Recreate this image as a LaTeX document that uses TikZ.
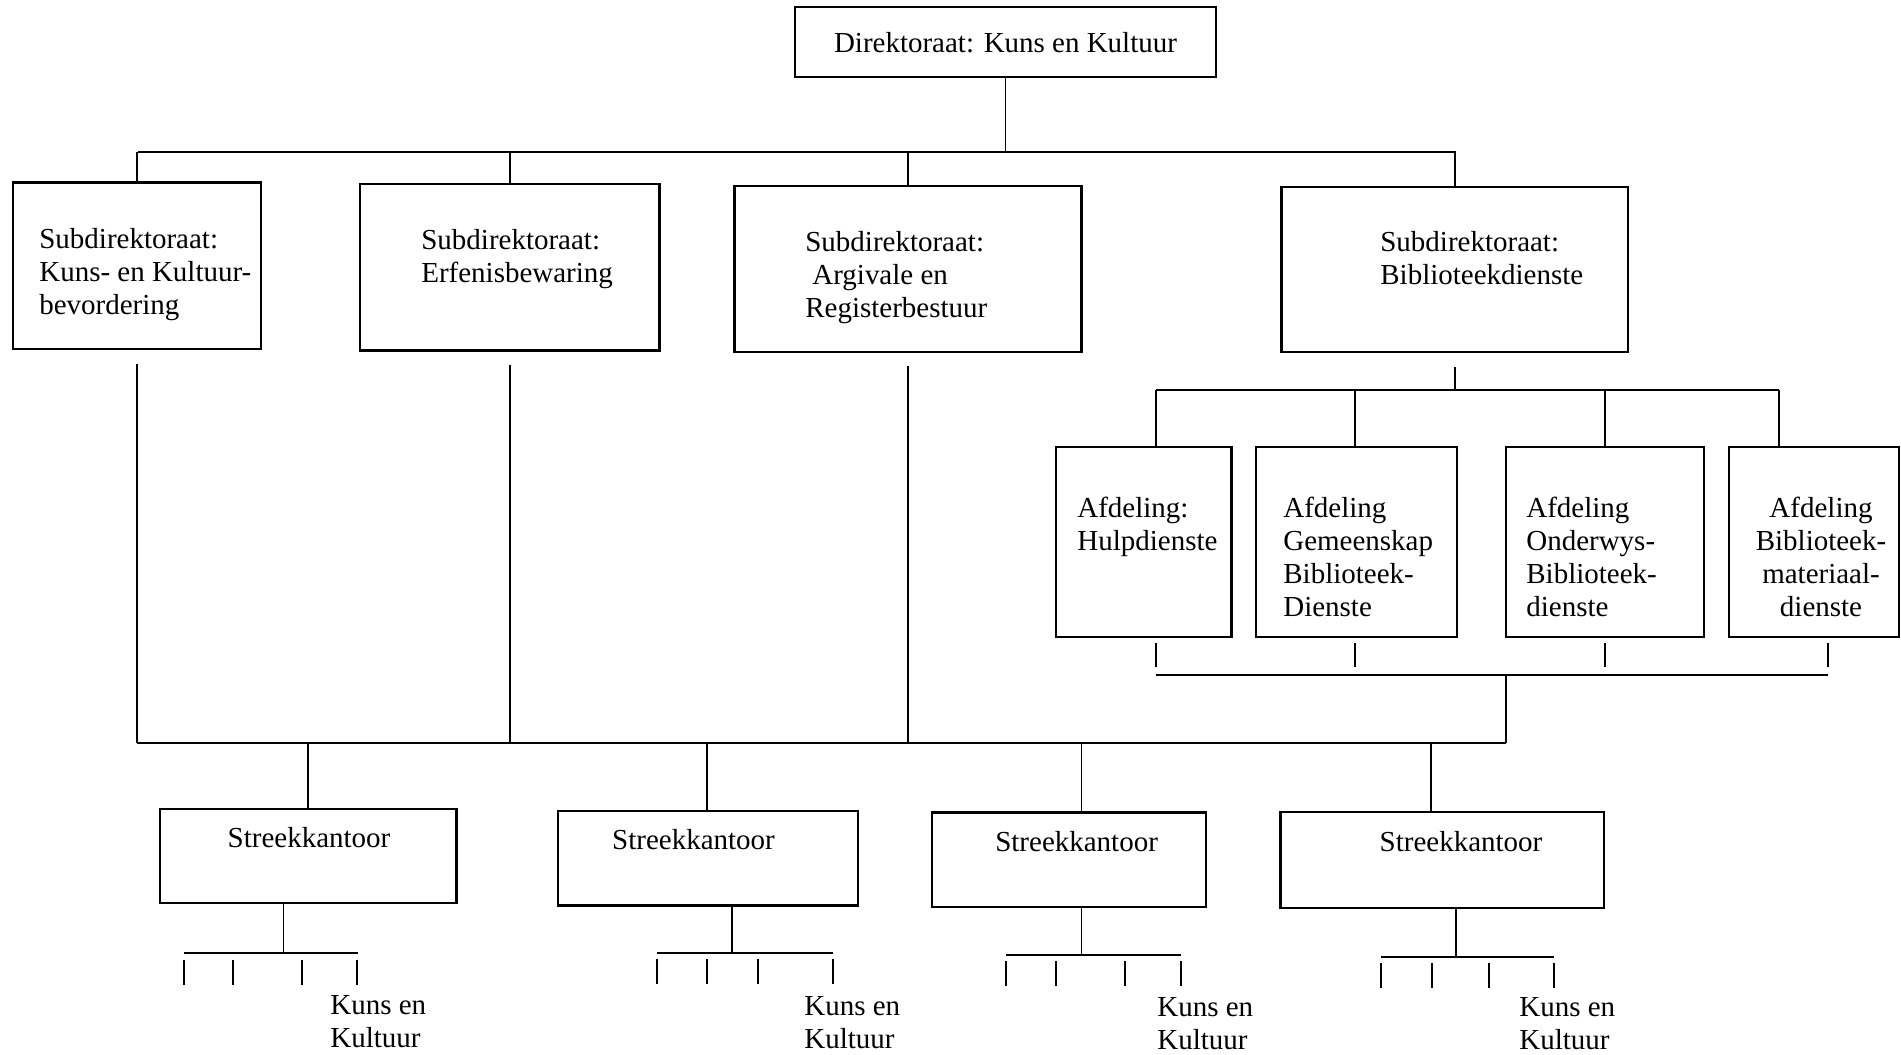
\documentclass[tikz,border=0pt]{standalone}
\usepackage{fontspec}
\setmainfont{Liberation Serif}
\begin{document}
\begin{tikzpicture}[x=0.02cm, y=-0.02cm,
    font=\fontsize{16.5}{18.7}\selectfont,
    unitbox/.style ={rectangle, draw, line width=1.3pt, inner sep=0pt},
    caption/.style ={inner sep=0pt, align=left},
    link/.style ={line width=1.1pt},
    drop/.style ={link, shorten <=0.27cm}]
   \useasboundingbox (0,0) rectangle (1901,1055);

   \node[unitbox, minimum width=8.42cm, minimum height=1.4cm] (dir) at (1005.5,42.3) {Direktoraat: Kuns en Kultuur};

   \node[unitbox, minimum width=4.95cm, minimum height=3.33cm] (sub1) at (137,265.8) {};
   \node[unitbox, minimum width=5.99cm, minimum height=3.33cm] (sub2) at (509.8,267.4) {};
   \node[unitbox, minimum width=6.94cm, minimum height=3.32cm] (sub3) at (908.1,268.7) {};
   \node[unitbox, minimum width=6.93cm, minimum height=3.31cm] (sub4) at (1454.8,269.5) {};

   \node[caption, anchor=north west] (sub1t) at (39,228) {Subdirektoraat:\\Kuns- en Kultuur-\\bevordering};
   \node[caption, anchor=north west] (sub2t) at (421,229) {Subdirektoraat:\\Erfenisbewaring};
   \node[caption, anchor=north west] (sub3t) at (805,231) {Subdirektoraat:\\\hspace*{4pt}Argivale en\\Registerbestuur};
   \node[caption, anchor=north west] (sub4t) at (1380,231) {Subdirektoraat:\\Biblioteekdienste};

   \node[unitbox, minimum width=3.51cm, minimum height=3.79cm] (afd1) at (1143.8,542) {};
   \node[unitbox, minimum width=4.02cm, minimum height=3.79cm] (afd2) at (1356.3,542) {};
   \node[unitbox, minimum width=3.97cm, minimum height=3.79cm] (afd3) at (1604.9,542) {};
   \node[unitbox, minimum width=3.41cm, minimum height=3.79cm] (afd4) at (1813.9,542) {};

   \node[caption, anchor=north west] (afd1t) at (1077,497) {Afdeling:\\Hulpdienste};
   \node[caption, anchor=north west] (afd2t) at (1283,497) {Afdeling\\Gemeenskap\\Biblioteek-\\Dienste};
   \node[caption, anchor=north west] (afd3t) at (1526,497) {Afdeling\\Onderwys-\\Biblioteek-\\dienste};
   \node[caption, align=center, anchor=north] (afd4t) at (1821,497) {Afdeling\\Biblioteek-\\materiaal-\\dienste};

   \node[unitbox, minimum width=5.93cm, minimum height=1.89cm] (reg1) at (308.4,856) {};
   \node[unitbox, minimum width=6.01cm, minimum height=1.89cm] (reg2) at (708,858.3) {};
   \node[unitbox, minimum width=5.48cm, minimum height=1.89cm] (reg3) at (1069.3,859.6) {};
   \node[unitbox, minimum width=6.47cm, minimum height=1.92cm] (reg4) at (1442.2,860.2) {};

   \node[caption, anchor=base] (reg1t) at (309,847) {Streekkantoor};
   \node[caption, anchor=base] (reg2t) at (693.5,849.5) {Streekkantoor};
   \node[caption, anchor=base] (reg3t) at (1076.6,851) {Streekkantoor};
   \node[caption, anchor=base] (reg4t) at (1461,851) {Streekkantoor};

   \node[caption, anchor=north west] (kk1) at (330,995) {Kuns en\\Kultuur};
   \node[caption, anchor=north west] (kk2) at (804,996) {Kuns en\\Kultuur};
   \node[caption, anchor=north west] (kk3) at (1157,997) {Kuns en\\Kultuur};
   \node[caption, anchor=north west] (kk4) at (1519,997) {Kuns en\\Kultuur};

   \coordinate (busAl) at (138,152);
   \coordinate (busAr) at (1456,152);
   \coordinate (busBl) at (137,743);
   \coordinate (busBr) at (1506,743);
   \coordinate (up1) at (1156,390);
   \coordinate (up2) at (1355,390);
   \coordinate (up3) at (1605,390);
   \coordinate (up4) at (1779,390);
   \coordinate (dn1) at (1156,675);
   \coordinate (dn2) at (1355,675);
   \coordinate (dn3) at (1605,675);
   \coordinate (dn4) at (1828,675);
   \coordinate (merge) at (1506,675);
   \coordinate (s1) at (308,743);
   \coordinate (s2) at (707,743);
   \coordinate (s3) at (1081.5,743);
   \coordinate (s4) at (1430.6,743);
   \coordinate (k1) at (283.5,953);
   \coordinate (k2) at (732.3,953);
   \coordinate (k3) at (1081.5,955);
   \coordinate (k4) at (1456,957);

   \draw[link] (busAl) to (busAr);
   \draw[link] (dir) to (dir |- busAl);
   \draw[link] (sub1 |- busAl) to (sub1);
   \draw[link] (sub2 |- busAl) to (sub2);
   \draw[link] (sub3 |- busAl) to (sub3);
   \draw[link] (sub4 |- busAl) to (sub4);

   \draw[link] (busBl) to (busBr);
   \draw[drop] (sub1) to (sub1 |- busBl);
   \draw[drop] (sub2) to (sub2 |- busBl);
   \draw[drop] (sub3) to (sub3 |- busBl);

   \draw[link] (up1) to (up4);
   \draw[drop] (sub4) to (sub4 |- up1);
   \foreach \i in {1,...,4} \draw[link] (up\i) to (afd\i.north -| up\i);
   \foreach \i in {1,...,4} \draw[link, shorten <=0.11cm, shorten >=0.16cm] (afd\i.south -| dn\i) to (dn\i);
   \draw[link] (dn1) to (dn4);
   \draw[link] (merge) to (merge |- busBl);

   \foreach \i in {1,...,4} \draw[link] (s\i) to (reg\i.north -| s\i);
   \foreach \i in {1,...,4} \draw[link] (reg\i.south -| k\i) to (k\i);
   \foreach \a/\b/\y in {184/358/953, 657/833/953, 1006/1181/955, 1381/1554/957}
     \draw[link] (\a,\y) to (\b,\y);
   \foreach \x/\y in {184/960, 233/960, 302/960, 357/960, 657/959, 707/959, 758/959, 833/959,
       1006/961, 1056/961, 1125/961, 1181/961, 1381/963, 1432/963, 1489/963, 1554/963}
     \draw[link] (\x,\y) to ++(0,25);

 \end{tikzpicture}
\end{document}
